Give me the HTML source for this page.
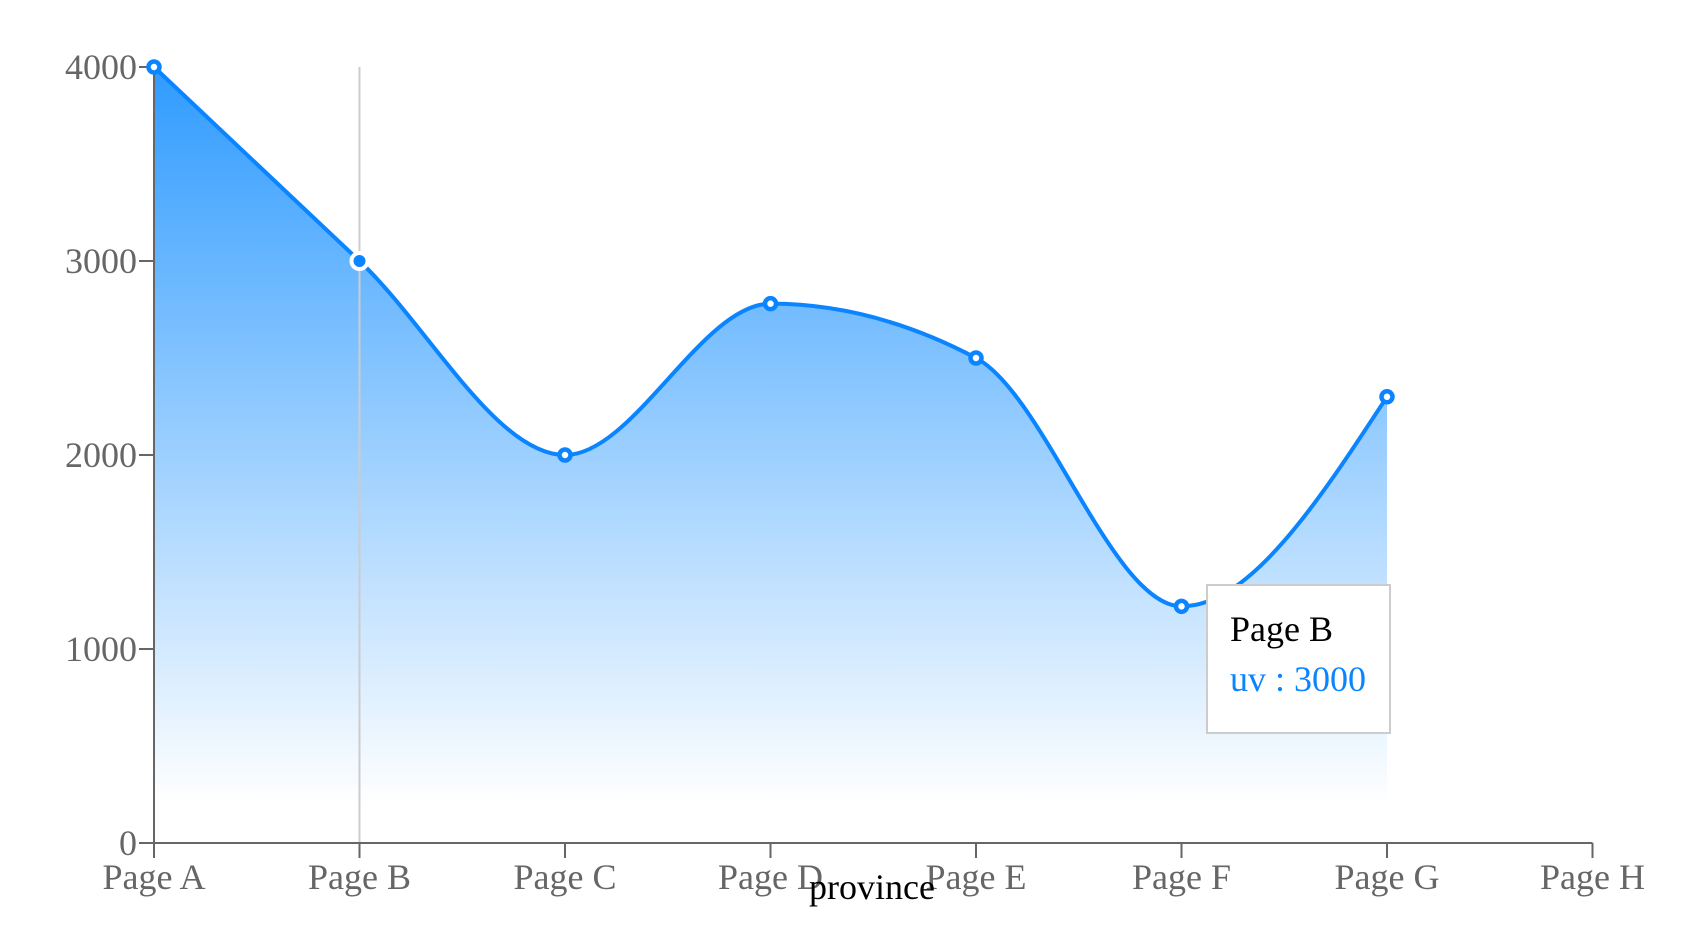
<!DOCTYPE html>
<html><head><meta charset="utf-8"><style>
html,body{margin:0;padding:0;background:#fff;}
svg{display:block;font-family:"Liberation Serif",serif;}
</style></head><body>
<svg id="chart" width="1700" height="930">
<defs>
<linearGradient id="g" x1="0" y1="0" x2="0" y2="1">
<stop offset="0%" stop-color="#1890ff" stop-opacity="0.9"/>
<stop offset="95%" stop-color="#1890ff" stop-opacity="0"/>
</linearGradient>
</defs>
</svg>
<script>
const categories=["Page A","Page B","Page C","Page D","Page E","Page F","Page G","Page H"];
const uvValues=[4000,3000,2000,2780,2500,1220,2300,null];
const yTicks=[0,1000,2000,3000,4000];
const activeIndex=1;
const svg=document.getElementById('chart');
const NS='http://www.w3.org/2000/svg';
const x0=154,dx=205.5,yTop=67,yBot=843,yMax=4000;
const X=i=>x0+i*dx;
const Y=v=>yBot-(v/yMax)*(yBot-yTop);
function mk(t,a,p){const e=document.createElementNS(NS,t);for(const k in a)e.setAttribute(k,a[k]);(p||svg).appendChild(e);return e;}
function monotone(pts){
 const n=pts.length;if(n<2)return '';
 const d=[],m=[];
 for(let i=0;i<n-1;i++)d.push((pts[i+1][1]-pts[i][1])/(pts[i+1][0]-pts[i][0]));
 m[0]=d[0];m[n-1]=d[n-2];
 for(let i=1;i<n-1;i++){ if(d[i-1]*d[i]<=0)m[i]=0; else {const h0=pts[i][0]-pts[i-1][0],h1=pts[i+1][0]-pts[i][0];const p=(d[i-1]*h1+d[i]*h0)/(h0+h1);m[i]=(Math.sign(d[i-1])+Math.sign(d[i]))*Math.min(Math.abs(d[i-1]),Math.abs(d[i]),0.5*Math.abs(p));}}
 if(n>2){m[0]=(3*d[0]-m[1])/2;m[n-1]=(3*d[n-2]-m[n-2])/2;}
 let s='M'+pts[0][0]+','+pts[0][1];
 for(let i=0;i<n-1;i++){const h=(pts[i+1][0]-pts[i][0])/3;
  s+=' C'+(pts[i][0]+h)+','+(pts[i][1]+h*m[i])+' '+(pts[i+1][0]-h)+','+(pts[i+1][1]-h*m[i+1])+' '+pts[i+1][0]+','+pts[i+1][1];}
 return s;
}
const pts=[];uvValues.forEach((v,i)=>{if(v!=null)pts.push([X(i),Y(v)]);});
const line=monotone(pts);
let el;
el=mk('path',{d:line+' L'+pts[pts.length-1][0]+','+yBot+' L'+pts[0][0]+','+yBot+' Z',fill:'url(#g)'});


el=mk('line',{x1:X(activeIndex),x2:X(activeIndex),y1:yTop,y2:yBot,stroke:'#ccc','stroke-width':2});


el=mk('path',{d:line,fill:'none',stroke:'#0a84ff','stroke-width':4});


el=mk('line',{x1:x0,x2:x0,y1:yTop,y2:yBot,stroke:'#666','stroke-width':2});


el=mk('line',{x1:x0,x2:X(categories.length-1),y1:yBot,y2:yBot,stroke:'#666','stroke-width':2});


yTicks.forEach(t=>{
 el=mk('line',{x1:x0-15,x2:x0,y1:Y(t),y2:Y(t),stroke:'#666','stroke-width':2});
 
 
 el=mk('text',{x:x0-17,y:Y(t)+12,'text-anchor':'end','font-size':36,fill:'#666'});el.textContent=t;
 
 
});
categories.forEach((c,i)=>{
 el=mk('line',{x1:X(i),x2:X(i),y1:yBot,y2:yBot+15,stroke:'#666','stroke-width':2});
 
 
 el=mk('text',{x:X(i),y:yBot+46,'text-anchor':'middle','font-size':36,fill:'#666'});el.textContent=c;
 
 
});
el=mk('text',{x:872,y:899,'text-anchor':'middle','font-size':36,fill:'#000'});el.textContent='province';


uvValues.forEach((v,i)=>{
 if(v==null)return;
 if(i===activeIndex){
  el=mk('circle',{cx:X(i),cy:Y(v),r:8,fill:'#0a84ff',stroke:'#fff','stroke-width':4});
  
 } else {
  el=mk('circle',{cx:X(i),cy:Y(v),r:5.5,fill:'#fff',stroke:'#0a84ff','stroke-width':4.5});
  
 }
 
});
const tg=mk('g',{});


el=mk('rect',{x:1207,y:585,width:183,height:148,fill:'#fff',stroke:'#ccc','stroke-width':2},tg);


el=mk('text',{x:1230,y:641,'font-size':36,fill:'#000'},tg);el.textContent=categories[activeIndex];


el=mk('text',{x:1230,y:691,'font-size':36,fill:'#0a84ff'},tg);el.textContent='uv : '+uvValues[activeIndex];


</script>
</body></html>
